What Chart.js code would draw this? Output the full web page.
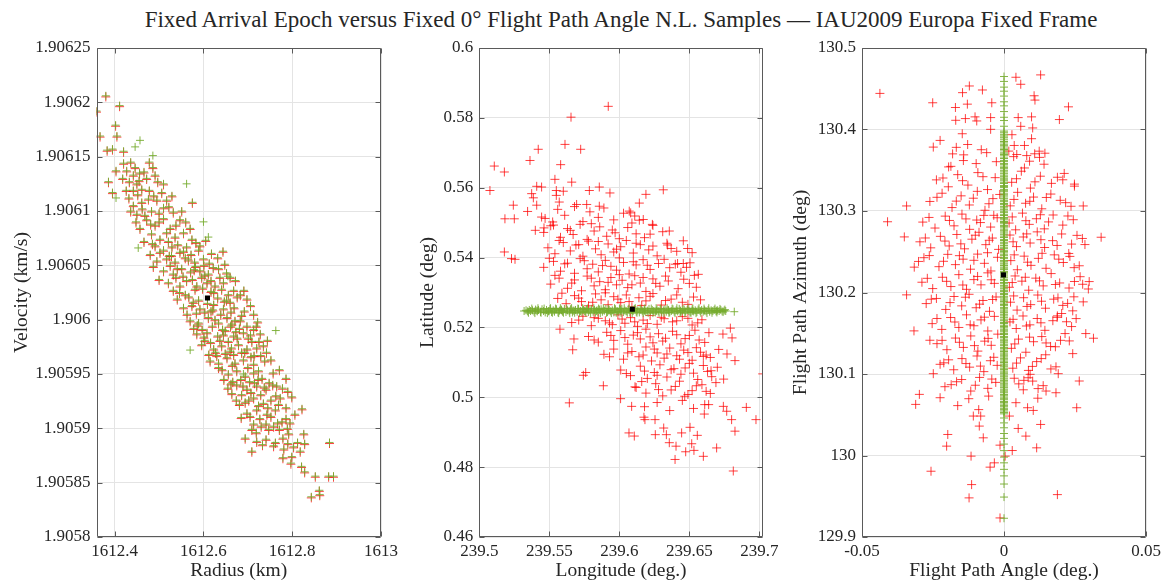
<!DOCTYPE html>
<html>
<head>
<meta charset="utf-8">
<script src="https://cdn.jsdelivr.net/npm/chart.js@4.4.1/dist/chart.umd.min.js"></script>
<style>
body { margin: 0; background: #fff; overflow: hidden; }
#wrap { position: relative; width: 1162px; height: 583px; }
#wrap canvas { position: absolute; left: 0; top: 0; }
#title { position: absolute; left: 621px; top: 6px; transform: translateX(-50%); white-space: nowrap;
  font: 23px "Liberation Serif"; line-height: 28px; color: #262626; }
</style>
</head>
<body>
<div id="wrap">
<div id="title">Fixed Arrival Epoch versus Fixed 0° Flight Path Angle N.L. Samples — IAU2009 Europa Fixed Frame</div>
<canvas id="c1" width="1162" height="583"></canvas>
<canvas id="c2" width="1162" height="583"></canvas>
<canvas id="c3" width="1162" height="583"></canvas>
</div>
<script>
// ---- panel 1 : radius / velocity ----
var radiusRange = [1612.359, 1613];
var radiusTicks = [1612.4, 1612.6, 1612.8, 1613];
var velocityRange = [1.9058, 1.90625];
var velocityTicks = [1.9058, 1.90585, 1.9059, 1.90595, 1.906, 1.90605, 1.9061, 1.90615, 1.9062, 1.90625];
var nomRV = [1612.609, 1.906020];
// [radius, velocity (fixed epoch), velocity (fixed 0 deg FPA)] - same radius draws
var rvSamples = [
  [1612.359,1.906191,1.906192],[1612.380,1.906205,1.906206],[1612.411,1.906196,1.906197],[1612.367,1.906168,1.906169],[1612.402,1.906178,1.906179],[1612.405,1.906168,1.906169],
  [1612.383,1.906155,1.906156],[1612.395,1.906156,1.906157],[1612.420,1.906154,1.906155],[1612.386,1.906126,1.906127],[1612.395,1.906116,1.906117],[1612.403,1.906136,1.906137],[1612.575,1.906107,1.906108],
  [1612.420,1.906143,1.906144],[1612.436,1.906144,1.906145],[1612.446,1.906139,1.906140],[1612.427,1.906136,1.906137],[1612.442,1.906132,1.906133],[1612.456,1.906134,1.906135],[1612.478,1.906144,1.906145],
  [1612.486,1.906139,1.906140],[1612.466,1.906135,1.906136],[1612.433,1.906126,1.906127],[1612.450,1.906124,1.906125],[1612.472,1.906129,1.906130],[1612.491,1.906132,1.906133],[1612.426,1.906118,1.906119],
  [1612.442,1.906118,1.906119],[1612.461,1.906119,1.906120],[1612.478,1.906118,1.906119],[1612.510,1.906124,1.906125],[1612.506,1.906116,1.906117],[1612.529,1.906113,1.906114],[1612.442,1.906104,1.906105],
  [1612.461,1.906107,1.906108],[1612.476,1.906110,1.906111],[1612.495,1.906109,1.906110],[1612.450,1.906096,1.906097],[1612.468,1.906095,1.906096],[1612.483,1.906099,1.906100],[1612.510,1.906102,1.906103],
  [1612.532,1.906098,1.906099],[1612.551,1.906099,1.906100],[1612.457,1.906083,1.906084],[1612.472,1.906091,1.906092],[1612.491,1.906086,1.906087],[1612.510,1.906092,1.906093],[1612.525,1.906083,1.906084],
  [1612.547,1.906091,1.906092],[1612.483,1.906078,1.906079],[1612.502,1.906073,1.906074],[1612.517,1.906079,1.906080],[1612.536,1.906075,1.906076],[1612.555,1.906079,1.906080],[1612.570,1.906083,1.906084],
  [1612.574,1.906073,1.906074],[1612.491,1.906067,1.906068],[1612.510,1.906063,1.906064],[1612.529,1.906066,1.906067],[1612.547,1.906061,1.906062],[1612.562,1.906066,1.906067],[1612.592,1.906067,1.906068],
  [1612.495,1.906053,1.906054],[1612.517,1.906055,1.906056],[1612.536,1.906052,1.906053],[1612.559,1.906056,1.906057],[1612.580,1.906052,1.906053],[1612.600,1.906055,1.906056],[1612.632,1.906056,1.906057],
  [1612.644,1.906062,1.906063],[1612.510,1.906044,1.906045],[1612.532,1.906041,1.906042],[1612.551,1.906046,1.906047],[1612.571,1.906043,1.906044],[1612.592,1.906044,1.906045],[1612.611,1.906041,1.906042],
  [1612.634,1.906046,1.906047],[1612.660,1.906038,1.906039],[1612.521,1.906033,1.906034],[1612.547,1.906030,1.906031],[1612.562,1.906035,1.906036],[1612.585,1.906030,1.906031],[1612.608,1.906033,1.906034],
  [1612.626,1.906030,1.906031],[1612.645,1.906033,1.906034],
  [1612.532,1.906026,1.906027],[1612.559,1.906022,1.906023],[1612.581,1.906027,1.906028],[1612.623,1.906024,1.906025],[1612.641,1.906027,1.906028],[1612.668,1.906026,1.906027],[1612.683,1.906022,1.906023],
  [1612.555,1.906010,1.906011],[1612.577,1.906015,1.906016],[1612.592,1.906009,1.906010],[1612.623,1.906013,1.906014],[1612.645,1.906009,1.906010],[1612.660,1.906015,1.906016],[1612.698,1.906018,1.906019],
  [1612.713,1.906004,1.906005],[1612.570,1.905998,1.905999],[1612.589,1.905996,1.905997],[1612.611,1.906001,1.906002],[1612.634,1.905996,1.905997],[1612.653,1.906001,1.906002],[1612.671,1.905998,1.905999],
  [1612.698,1.905993,1.905994],[1612.585,1.905986,1.905987],[1612.608,1.905987,1.905988],[1612.632,1.905984,1.905985],[1612.649,1.905989,1.905990],[1612.668,1.905984,1.905985],[1612.690,1.905987,1.905988],
  [1612.713,1.905990,1.905991],[1612.728,1.905986,1.905987],[1612.596,1.905976,1.905977],[1612.623,1.905972,1.905973],[1612.641,1.905975,1.905976],[1612.660,1.905970,1.905971],[1612.679,1.905976,1.905977],
  [1612.698,1.905972,1.905973],[1612.720,1.905973,1.905974],[1612.615,1.905961,1.905962],[1612.634,1.905959,1.905960],[1612.653,1.905964,1.905965],[1612.671,1.905959,1.905960],[1612.690,1.905962,1.905963],
  [1612.713,1.905958,1.905959],[1612.738,1.905961,1.905962],[1612.634,1.905955,1.905956],[1612.656,1.905949,1.905950],[1612.675,1.905952,1.905953],[1612.694,1.905947,1.905948],[1612.713,1.905950,1.905951],
  [1612.732,1.905945,1.905946],[1612.771,1.905953,1.905954],[1612.655,1.905936,1.905937],[1612.675,1.905939,1.905940],[1612.698,1.905935,1.905936],[1612.720,1.905938,1.905939],[1612.741,1.905935,1.905936],
  [1612.756,1.905939,1.905940],[1612.786,1.905945,1.905946],[1612.674,1.905925,1.905926],[1612.694,1.905923,1.905924],[1612.713,1.905927,1.905928],[1612.735,1.905922,1.905923],[1612.752,1.905925,1.905926],
  [1612.773,1.905927,1.905928],[1612.799,1.905928,1.905929],[1612.822,1.905917,1.905918],[1612.698,1.905913,1.905914],[1612.720,1.905916,1.905917],[1612.743,1.905912,1.905913],[1612.762,1.905916,1.905917],
  [1612.786,1.905918,1.905919],[1612.713,1.905903,1.905904],[1612.741,1.905903,1.905904],[1612.758,1.905901,1.905902],[1612.777,1.905905,1.905906],[1612.795,1.905904,1.905905],[1612.694,1.905890,1.905891],
  [1612.719,1.905895,1.905896],[1612.747,1.905898,1.905899],[1612.771,1.905898,1.905899],[1612.789,1.905899,1.905900],[1612.826,1.905894,1.905895],[1612.709,1.905878,1.905879],[1612.720,1.905887,1.905888],
  [1612.779,1.905890,1.905891],[1612.803,1.905882,1.905883],[1612.828,1.905885,1.905886],[1612.818,1.905878,1.905879],[1612.779,1.905872,1.905873],[1612.799,1.905873,1.905874],[1612.797,1.905867,1.905868],
  [1612.821,1.905864,1.905865],[1612.828,1.905859,1.905860],[1612.852,1.905855,1.905856],[1612.884,1.905886,1.905887],[1612.882,1.905855,1.905856],[1612.893,1.905855,1.905856],[1612.843,1.905836,1.905837],
  [1612.861,1.905842,1.905843],[1612.862,1.905838,1.905839],
  [1612.418,1.906129,1.906130],[1612.455,1.906127,1.906128],[1612.497,1.906126,1.906127],
  [1612.432,1.906111,1.906112],[1612.452,1.906114,1.906115],[1612.488,1.906113,1.906114],[1612.517,1.906109,1.906110],
  [1612.436,1.906099,1.906100],[1612.462,1.906101,1.906102],[1612.500,1.906097,1.906098],[1612.522,1.906103,1.906104],
  [1612.448,1.906089,1.906090],[1612.481,1.906087,1.906088],[1612.500,1.906089,1.906090],[1612.538,1.906086,1.906087],[1612.560,1.906089,1.906090],
  [1612.466,1.906071,1.906072],[1612.485,1.906069,1.906070],[1612.521,1.906071,1.906072],[1612.542,1.906068,1.906069],[1612.583,1.906070,1.906071],[1612.605,1.906072,1.906073],
  [1612.480,1.906059,1.906060],[1612.502,1.906061,1.906062],[1612.523,1.906058,1.906059],[1612.555,1.906062,1.906063],[1612.572,1.906059,1.906060],[1612.618,1.906060,1.906061],
  [1612.487,1.906048,1.906049],[1612.525,1.906049,1.906050],[1612.541,1.906046,1.906047],[1612.582,1.906048,1.906049],[1612.601,1.906049,1.906050],[1612.622,1.906047,1.906048],[1612.648,1.906050,1.906051],
  [1612.500,1.906036,1.906037],[1612.538,1.906038,1.906039],[1612.575,1.906036,1.906037],[1612.596,1.906038,1.906039],[1612.617,1.906035,1.906036],[1612.637,1.906038,1.906039],[1612.672,1.906035,1.906036],
  [1612.541,1.906018,1.906019],[1612.567,1.906020,1.906021],[1612.589,1.906017,1.906018],[1612.609,1.906014,1.906015],[1612.632,1.906019,1.906020],[1612.652,1.906017,1.906018],[1612.676,1.906020,1.906021],[1612.706,1.906012,1.906013],
  [1612.563,1.906004,1.906005],[1612.584,1.906005,1.906006],[1612.603,1.906006,1.906007],[1612.617,1.906007,1.906008],[1612.639,1.906004,1.906005],[1612.662,1.906006,1.906007],[1612.686,1.906003,1.906004],[1612.722,1.905997,1.905998],
  [1612.578,1.905991,1.905992],[1612.597,1.905990,1.905991],[1612.620,1.905993,1.905994],[1612.643,1.905990,1.905991],[1612.661,1.905993,1.905994],[1612.681,1.905991,1.905992],[1612.706,1.905985,1.905986],[1612.744,1.905980,1.905981],
  [1612.603,1.905980,1.905981],[1612.616,1.905978,1.905979],[1612.637,1.905980,1.905981],[1612.656,1.905979,1.905980],[1612.676,1.905982,1.905983],[1612.709,1.905979,1.905980],[1612.735,1.905975,1.905976],
  [1612.612,1.905967,1.905968],[1612.630,1.905966,1.905967],[1612.649,1.905968,1.905969],[1612.668,1.905967,1.905968],[1612.686,1.905969,1.905970],[1612.707,1.905965,1.905966],[1612.729,1.905966,1.905967],[1612.752,1.905962,1.905963],
  [1612.646,1.905944,1.905945],[1612.666,1.905942,1.905943],[1612.684,1.905944,1.905945],[1612.704,1.905942,1.905943],[1612.723,1.905944,1.905945],[1612.748,1.905941,1.905942],[1612.765,1.905938,1.905939],
  [1612.664,1.905931,1.905932],[1612.686,1.905930,1.905931],[1612.707,1.905932,1.905933],[1612.729,1.905930,1.905931],[1612.763,1.905929,1.905930],[1612.790,1.905933,1.905934],
  [1612.685,1.905909,1.905910],[1612.705,1.905910,1.905911],[1612.727,1.905908,1.905909],[1612.752,1.905910,1.905911],[1612.786,1.905908,1.905909],[1612.806,1.905912,1.905913],
  [1612.733,1.905884,1.905885],[1612.758,1.905883,1.905884],[1612.790,1.905885,1.905886],[1612.812,1.905886,1.905887],
  [1612.528,1.906058,1.906059],[1612.566,1.906054,1.906055],[1612.613,1.906051,1.906052],[1612.589,1.906063,1.906064],
  [1612.554,1.906039,1.906040],[1612.603,1.906040,1.906041],[1612.652,1.906042,1.906043],[1612.579,1.906045,1.906046],
  [1612.546,1.906024,1.906025],[1612.598,1.906028,1.906029],[1612.617,1.906025,1.906026],[1612.656,1.906022,1.906023],[1612.691,1.906026,1.906027],
  [1612.574,1.906012,1.906013],[1612.621,1.906008,1.906009],[1612.647,1.906016,1.906017],[1612.669,1.906010,1.906011],[1612.692,1.906007,1.906008],
  [1612.586,1.905994,1.905995],[1612.626,1.905999,1.906000],[1612.664,1.905995,1.905996],[1612.683,1.905998,1.905999],[1612.719,1.905993,1.905994],
  [1612.601,1.905983,1.905984],[1612.645,1.905985,1.905986],[1612.673,1.905988,1.905989],[1612.701,1.905982,1.905983],[1612.725,1.905979,1.905980],
  [1612.627,1.905969,1.905970],[1612.663,1.905973,1.905974],[1612.693,1.905969,1.905970],[1612.714,1.905966,1.905967],[1612.742,1.905969,1.905970],
  [1612.642,1.905953,1.905954],[1612.665,1.905957,1.905958],[1612.700,1.905955,1.905956],[1612.724,1.905952,1.905953],[1612.757,1.905950,1.905951],
  [1612.662,1.905940,1.905941],[1612.689,1.905938,1.905939],[1612.715,1.905941,1.905942],[1612.737,1.905937,1.905938],[1612.778,1.905936,1.905937],
  [1612.681,1.905921,1.905922],[1612.702,1.905925,1.905926],[1612.724,1.905920,1.905921],[1612.745,1.905918,1.905919],[1612.769,1.905921,1.905922],
  [1612.709,1.905898,1.905899],[1612.730,1.905901,1.905902],[1612.767,1.905904,1.905905],[1612.792,1.905894,1.905895],
  [1612.741,1.905889,1.905890],[1612.762,1.905886,1.905887],[1612.781,1.905880,1.905881]
];
var rvFpaOnly = [
  [1612.446,1.906159],[1612.486,1.906151],[1612.403,1.906112],[1612.562,1.906125],[1612.457,1.906165],[1612.453,1.906066],
  [1612.611,1.906076],[1612.570,1.905972],[1612.763,1.905990],[1612.655,1.906040],[1612.600,1.906090],[1612.690,1.905950]
];

// ---- panel 2 : longitude / latitude ----
var lonRange = [239.5, 239.7024];
var lonTicks = [239.5, 239.55, 239.6, 239.65, 239.7];
var latRange = [0.46, 0.6];
var latTicks = [0.46, 0.48, 0.5, 0.52, 0.54, 0.56, 0.58, 0.6];
var nomLonLat = [239.6093, 0.5252];
var lonLatEpoch = [
  [239.5076,0.5592],[239.5107,0.5662],[239.5179,0.5645],[239.5243,0.5550],[239.5183,0.5511],[239.5250,0.5511],[239.5179,0.5416],[239.5230,0.5397],
  [239.5255,0.5395],[239.5362,0.5678],[239.5421,0.5710],[239.5345,0.5532],[239.5374,0.5583],[239.5386,0.5571],[239.5410,0.5604],[239.5612,0.5724],
  [239.5655,0.5802],[239.5921,0.5833],[239.5724,0.5710],[239.5581,0.5666],[239.5540,0.5624],[239.5600,0.5590],[239.5660,0.5616],[239.5786,0.5592],
  [239.5857,0.5602],[239.5933,0.5585],[239.6190,0.5581],[239.6314,0.5594],[239.6143,0.5556],[239.5857,0.5547],[239.6071,0.5533],[239.5767,0.5552],
  [239.5695,0.5552],[239.5445,0.5602],[239.5550,0.5592],[239.5571,0.5559],[239.5550,0.5578],[239.5410,0.5550],[239.5445,0.5516],[239.5462,0.5485],
  [239.5400,0.5478],[239.5524,0.5502],[239.6081,0.5528],[239.6143,0.5507],[239.6171,0.5509],[239.6236,0.5495],[239.6357,0.5476],[239.6457,0.5448],
  [239.6488,0.5426],[239.6345,0.5436],[239.6416,0.5383],[239.6457,0.5383],[239.6505,0.5385],[239.6536,0.5349],[239.6564,0.5352],
  [239.5643,0.4984],[239.5886,0.5033],[239.5743,0.5063],[239.5760,0.5071],[239.5667,0.5136],[239.5676,0.5167],[239.5576,0.5195],[239.6009,0.4996],
  [239.6069,0.4898],[239.6107,0.4889],[239.6088,0.4974],[239.6112,0.5030],[239.6176,0.4943],[239.6183,0.4936],[239.6255,0.4936],[239.6317,0.4912],
  [239.6336,0.4893],[239.6257,0.4893],[239.6357,0.4870],[239.6405,0.4860],[239.6398,0.4822],[239.6445,0.4898],[239.6474,0.4844],[239.6505,0.4914],
  [239.6517,0.4867],[239.6533,0.4848],[239.6557,0.4891],[239.6600,0.4831],[239.6607,0.4952],[239.6638,0.4979],[239.6695,0.4855],[239.6743,0.4974],
  [239.6767,0.4960],[239.6814,0.4789],[239.6826,0.4903],[239.6802,0.4936],[239.6907,0.4971],[239.6976,0.4936],[239.7024,0.5067],[239.6826,0.5105],
  [239.6769,0.5124],[239.6745,0.5052],[239.6655,0.5076],[239.6793,0.5198],[239.6805,0.5170],[239.6740,0.5181],[239.6600,0.5117],[239.6467,0.5003],
  [239.547,0.5512],[239.556,0.5538],[239.561,0.5521],[239.568,0.5546],[239.574,0.5503],[239.579,0.5531],[239.585,0.5515],[239.589,0.5542],
  [239.596,0.5508],[239.603,0.5527],[239.611,0.5519],
  [239.546,0.5472],[239.551,0.5491],[239.558,0.5458],[239.563,0.5483],[239.567,0.5466],[239.572,0.5495],[239.577,0.5452],[239.582,0.5476],
  [239.586,0.5488],[239.591,0.5461],[239.595,0.5479],[239.600,0.5454],[239.606,0.5486],[239.612,0.5468],[239.618,0.5457],[239.624,0.5492],[239.631,0.5474],
  [239.549,0.5428],[239.554,0.5411],[239.560,0.5443],[239.565,0.5419],[239.569,0.5436],[239.574,0.5404],[239.578,0.5447],[239.583,0.5425],
  [239.587,0.5408],[239.592,0.5439],[239.596,0.5416],[239.601,0.5431],[239.605,0.5449],[239.610,0.5413],[239.615,0.5437],[239.621,0.5422],
  [239.627,0.5405],[239.634,0.5441],[239.641,0.5418],
  [239.546,0.5372],[239.553,0.5389],[239.558,0.5361],[239.563,0.5384],[239.568,0.5355],[239.572,0.5397],[239.577,0.5368],[239.581,0.5381],
  [239.585,0.5359],[239.590,0.5392],[239.594,0.5375],[239.598,0.5364],[239.603,0.5386],[239.607,0.5353],[239.612,0.5379],[239.617,0.5394],
  [239.622,0.5366],[239.628,0.5383],[239.636,0.5371],[239.644,0.5358],
  [239.551,0.5324],[239.557,0.5341],[239.563,0.5312],[239.568,0.5336],[239.573,0.5305],[239.577,0.5347],[239.582,0.5319],[239.586,0.5331],
  [239.590,0.5308],[239.594,0.5343],[239.598,0.5322],[239.602,0.5335],[239.606,0.5314],[239.611,0.5348],[239.615,0.5327],[239.619,0.5303],
  [239.624,0.5339],[239.629,0.5318],[239.635,0.5333],[239.642,0.5311],[239.650,0.5326],
  [239.556,0.5283],[239.562,0.5268],[239.568,0.5291],[239.573,0.5274],[239.578,0.5262],[239.583,0.5296],[239.587,0.5279],[239.592,0.5265],
  [239.596,0.5288],[239.601,0.5271],[239.605,0.5293],[239.609,0.5259],[239.614,0.5285],[239.619,0.5276],[239.624,0.5297],[239.630,0.5264],
  [239.637,0.5281],[239.645,0.5272],[239.653,0.5287],
  [239.566,0.5214],[239.574,0.5232],[239.580,0.5205],[239.585,0.5226],[239.590,0.5219],[239.595,0.5208],[239.599,0.5236],[239.604,0.5212],
  [239.608,0.5228],[239.613,0.5203],[239.617,0.5221],[239.622,0.5234],[239.627,0.5209],[239.632,0.5225],[239.638,0.5216],[239.645,0.5231],
  [239.652,0.5207],[239.659,0.5222],
  [239.578,0.5174],[239.585,0.5158],[239.591,0.5186],[239.596,0.5163],[239.601,0.5191],[239.606,0.5152],[239.610,0.5178],[239.615,0.5167],
  [239.619,0.5195],[239.624,0.5156],[239.628,0.5182],[239.633,0.5169],[239.638,0.5189],[239.644,0.5153],[239.650,0.5177],[239.657,0.5164],[239.664,0.5185],
  [239.589,0.5123],[239.596,0.5138],[239.603,0.5109],[239.609,0.5131],[239.614,0.5116],[239.619,0.5144],[239.623,0.5104],[239.627,0.5127],
  [239.632,0.5112],[239.636,0.5141],[239.641,0.5119],[239.646,0.5135],[239.652,0.5106],[239.658,0.5129],[239.665,0.5114],[239.671,0.5137],
  [239.601,0.5078],[239.608,0.5062],[239.615,0.5089],[239.620,0.5054],[239.625,0.5071],[239.629,0.5093],[239.634,0.5058],[239.639,0.5082],
  [239.644,0.5066],[239.650,0.5097],[239.656,0.5051],[239.663,0.5074],[239.670,0.5086],
  [239.612,0.5028],[239.619,0.5012],[239.626,0.5039],[239.631,0.5004],[239.637,0.5021],[239.643,0.5046],[239.649,0.5008],[239.655,0.5033],
  [239.662,0.5017],[239.669,0.5042],
  [239.618,0.4973],[239.627,0.4985],[239.636,0.4962],[239.645,0.4991],[239.653,0.4968],[239.661,0.4979],
  [239.553,0.5493],[239.565,0.5478],[239.580,0.5497],[239.597,0.5471],[239.609,0.5499],[239.622,0.5467],
  [239.557,0.5449],[239.571,0.5437],[239.585,0.5446],[239.598,0.5424],[239.612,0.5441],[239.624,0.5433],[239.637,0.5426],[239.652,0.5414],
  [239.550,0.5398],[239.561,0.5382],[239.575,0.5391],[239.588,0.5377],[239.600,0.5399],[239.610,0.5388],[239.620,0.5378],[239.632,0.5395],[239.640,0.5381],[239.648,0.5372],
  [239.554,0.5349],[239.566,0.5327],[239.580,0.5341],[239.592,0.5329],[239.600,0.5351],[239.609,0.5322],[239.617,0.5343],[239.626,0.5326],[239.633,0.5347],[239.646,0.5338],[239.655,0.5315],
  [239.559,0.5298],[239.571,0.5284],[239.581,0.5272],[239.590,0.5299],[239.599,0.5281],[239.607,0.5274],[239.616,0.5263],[239.622,0.5289],[239.633,0.5277],[239.641,0.5293],[239.649,0.5266],[239.658,0.5279],
  [239.571,0.5221],[239.582,0.5228],[239.593,0.5213],[239.602,0.5224],[239.611,0.5216],[239.620,0.5211],[239.630,0.5229],[239.641,0.5219],[239.649,0.5226],[239.656,0.5213],
  [239.582,0.5164],[239.594,0.5177],[239.604,0.5171],[239.613,0.5185],[239.622,0.5173],[239.631,0.5161],[239.641,0.5179],[239.647,0.5168],[239.654,0.5192],[239.661,0.5157],
  [239.593,0.5116],[239.606,0.5127],[239.617,0.5121],[239.625,0.5138],[239.634,0.5124],[239.643,0.5109],[239.649,0.5128],[239.655,0.5142],[239.662,0.5121],
  [239.605,0.5068],[239.618,0.5075],[239.627,0.5063],[239.637,0.5079],[239.647,0.5084],[239.653,0.5069],[239.660,0.5091],[239.666,0.5059],
  [239.616,0.5045],[239.628,0.5022],[239.640,0.5031],[239.652,0.5019],[239.659,0.5036],[239.665,0.5011]
];
var lonLatFpa = [
  [239.5320,0.5247],[239.5334,0.5249],[239.5345,0.5246],[239.5357,0.5250],[239.5366,0.5247],[239.5380,0.5249],[239.5391,0.5245],[239.5402,0.5251],
  [239.5414,0.5246],[239.5423,0.5250],[239.5437,0.5244],[239.5448,0.5252],[239.5459,0.5247],[239.5471,0.5243],[239.5480,0.5250],[239.5494,0.5246],
  [239.5505,0.5253],[239.5516,0.5244],[239.5528,0.5249],[239.5537,0.5245],[239.5551,0.5252],[239.5562,0.5243],[239.5573,0.5248],[239.5585,0.5251],
  [239.5594,0.5245],[239.5608,0.5253],[239.5619,0.5244],[239.5630,0.5249],[239.5642,0.5246],[239.5651,0.5252],[239.5665,0.5243],[239.5676,0.5248],
  [239.5687,0.5250],[239.5699,0.5245],[239.5708,0.5253],[239.5722,0.5247],[239.5733,0.5243],[239.5744,0.5251],[239.5756,0.5246],[239.5765,0.5252],
  [239.5779,0.5244],[239.5790,0.5249],[239.5801,0.5253],[239.5813,0.5245],[239.5822,0.5250],[239.5836,0.5247],[239.5847,0.5243],[239.5858,0.5251],
  [239.5870,0.5252],[239.5879,0.5245],[239.5893,0.5248],[239.5904,0.5253],[239.5915,0.5244],[239.5927,0.5250],[239.5936,0.5246],[239.5950,0.5249],
  [239.5961,0.5243],[239.5972,0.5252],[239.5984,0.5247],[239.5993,0.5245],[239.6007,0.5251],[239.6018,0.5253],[239.6029,0.5244],[239.6041,0.5248],
  [239.6050,0.5246],[239.6064,0.5252],[239.6075,0.5243],[239.6086,0.5250],[239.6098,0.5247],[239.6107,0.5253],[239.6121,0.5245],[239.6132,0.5249],
  [239.6143,0.5243],[239.6155,0.5251],[239.6164,0.5246],[239.6178,0.5252],[239.6189,0.5244],[239.6200,0.5248],[239.6212,0.5253],[239.6221,0.5245],
  [239.6235,0.5250],[239.6246,0.5247],[239.6257,0.5243],[239.6269,0.5251],[239.6278,0.5246],[239.6292,0.5253],[239.6303,0.5244],[239.6314,0.5249],
  [239.6326,0.5252],[239.6335,0.5245],[239.6349,0.5250],[239.6360,0.5243],[239.6371,0.5247],[239.6383,0.5252],[239.6392,0.5245],[239.6406,0.5249],
  [239.6417,0.5246],[239.6428,0.5253],[239.6440,0.5244],[239.6449,0.5248],[239.6463,0.5251],[239.6474,0.5245],[239.6485,0.5250],[239.6497,0.5247],
  [239.6506,0.5243],[239.6520,0.5252],[239.6531,0.5246],[239.6542,0.5249],[239.6554,0.5244],[239.6563,0.5251],[239.6577,0.5247],[239.6588,0.5250],
  [239.6599,0.5245],[239.6611,0.5248],[239.6620,0.5246],[239.6634,0.5250],[239.6645,0.5245],[239.6656,0.5249],[239.6668,0.5247],[239.6677,0.5250],
  [239.6691,0.5246],[239.6702,0.5249],[239.6713,0.5247],[239.6725,0.5250],[239.6734,0.5246],[239.6748,0.5248],[239.6760,0.5247],[239.6821,0.5245],
  [239.5351,0.5242],[239.5375,0.5254],[239.5397,0.5241],[239.5419,0.5255],[239.5441,0.5242],[239.5463,0.5254],[239.5486,0.5241],[239.5509,0.5255],
  [239.5522,0.5242],[239.5545,0.5254],[239.5567,0.5241],[239.5579,0.5255],[239.5601,0.5242],[239.5624,0.5254],[239.5646,0.5241],[239.5659,0.5255],
  [239.5681,0.5242],[239.5704,0.5254],[239.5716,0.5241],[239.5738,0.5255],[239.5761,0.5242],[239.5773,0.5254],[239.5795,0.5241],[239.5818,0.5255],
  [239.5829,0.5242],[239.5852,0.5254],[239.5864,0.5241],[239.5886,0.5255],[239.5909,0.5242],[239.5921,0.5254],[239.5943,0.5241],[239.5966,0.5255],
  [239.5978,0.5242],[239.6001,0.5254],[239.6013,0.5241],[239.6035,0.5255],[239.6057,0.5242],[239.6069,0.5254],[239.6092,0.5241],[239.6114,0.5255],
  [239.6126,0.5242],[239.6149,0.5254],[239.6171,0.5241],[239.6183,0.5255],[239.6206,0.5242],[239.6228,0.5254],[239.6240,0.5241],[239.6263,0.5255],
  [239.6284,0.5242],[239.6297,0.5254],[239.6319,0.5241],[239.6341,0.5255],[239.6354,0.5242],[239.6377,0.5254],[239.6398,0.5241],[239.6411,0.5255],
  [239.6434,0.5242],[239.6455,0.5254],[239.6468,0.5241],[239.6491,0.5255],[239.6512,0.5242],[239.6525,0.5254],[239.6548,0.5241],[239.6569,0.5255],
  [239.6582,0.5242],[239.6605,0.5254],[239.6626,0.5241],[239.6639,0.5255],[239.6662,0.5242],[239.6683,0.5254],[239.6697,0.5243],[239.6719,0.5253],
  [239.6741,0.5244],[239.6754,0.5251],
  [239.5412,0.5248],[239.5498,0.5247],[239.5587,0.5249],[239.5669,0.5248],[239.5753,0.5247],[239.5841,0.5249],[239.5925,0.5248],[239.6011,0.5247],
  [239.6095,0.5249],[239.6180,0.5248],[239.6264,0.5247],[239.6352,0.5249],[239.6437,0.5248],[239.6521,0.5247],[239.6607,0.5249],[239.6693,0.5248]
];

// ---- panel 3 : flight path angle / azimuth ----
var fpaRange = [-0.05, 0.05];
var fpaTicks = [-0.05, 0, 0.05];
var aziRange = [129.9, 130.5];
var aziTicks = [129.9, 130, 130.1, 130.2, 130.3, 130.4, 130.5];
var nomFpaAzi = [-0.0002, 130.2216];
var fpaAziEpoch = [
  [-0.0437,130.4443],[-0.0251,130.4328],[-0.0225,130.3866],[-0.0249,130.3784],[-0.0122,130.4534],[-0.0146,130.4452],[-0.0076,130.4485],
  [-0.0171,130.4270],[-0.0129,130.4311],[-0.0170,130.4113],[-0.0136,130.4134],[-0.0102,130.4155],[-0.0096,130.4105],[-0.0043,130.4328],
  [-0.0047,130.4146],[-0.0047,130.4002],[-0.0147,130.3948],[-0.0128,130.3816],[-0.0181,130.3701],[-0.0187,130.3548],[-0.0143,130.3619],
  [-0.0343,130.3062],[-0.0410,130.2868],[-0.0351,130.2682],[-0.0316,130.2311],[0.0042,130.4641],[0.0059,130.4555],[0.0129,130.4670],
  [0.0106,130.4414],[0.0109,130.4361],[0.0227,130.4278],[0.0195,130.4122],[0.0050,130.4146],[0.0097,130.4155],[0.0059,130.4039],
  [0.0101,130.4019],[0.0097,130.3887],[0.0028,130.3936],[0.0036,130.3804],[0.0072,130.3804],[0.0045,130.3693],[0.0080,130.3680],
  [0.0124,130.3734],[0.0144,130.3709],[0.0207,130.3383],[0.0248,130.3330],[0.0279,130.3062],[0.0342,130.2678],[0.0285,130.2588],
  [0.0232,130.2443],[0.0265,130.2328],[0.0300,130.2134],[0.0297,130.2043],[0.0277,130.2101],
  [-0.0343,130.1971],[-0.0317,130.1529],[-0.0261,130.1414],[-0.0225,130.1119],[-0.0249,130.1004],[-0.0298,130.0750],[-0.0311,130.0627],
  [-0.0225,130.0709],[-0.0208,130.0844],[-0.0198,130.0258],[-0.0202,130.0115],[-0.0257,129.9807],[-0.0116,129.9992],[-0.0114,129.9643],
  [-0.0123,129.9480],[-0.0073,130.0217],[-0.0087,130.0361],[-0.0108,130.0484],[-0.0082,130.0484],[-0.0049,129.9857],[-0.0034,129.9910],
  [-0.0014,130.0127],[-0.0014,129.9234],[0.0029,130.0061],[0.0004,129.9992],[0.0050,130.0332],[0.0077,130.0238],[0.0019,130.0484],
  [0.0115,130.0094],[0.0129,130.0381],[0.0148,130.0791],[0.0183,130.0770],[0.0188,129.9520],[0.0256,130.0586],[0.0265,130.0914],
  [0.0191,130.1004],[0.0242,130.1250],[0.0315,130.1439],[0.0288,130.1496],[0.0230,130.1406],[0.0215,130.1496],[0.0254,130.1680],
  [0.0188,130.1713],[0.0279,130.1885],[0.0246,130.1947],[0.0103,130.0553],[0.0092,130.0996],[0.0070,130.0922],
  [-0.0195,130.3541],[-0.0142,130.3689],[-0.0098,130.3582],[-0.0061,130.3716],[-0.0027,130.3605],[0.0034,130.3667],[0.0072,130.3528],
  [0.0108,130.3702],[0.0141,130.3574],
  [-0.0238,130.3382],[-0.0196,130.3297],[-0.0163,130.3446],[-0.0127,130.3318],[-0.0092,130.3471],[-0.0058,130.3263],[-0.0031,130.3409],
  [0.0027,130.3352],[0.0061,130.3488],[0.0093,130.3281],[0.0128,130.3427],[0.0167,130.3339],[0.0212,130.3461],[0.0248,130.3305],
  [-0.0261,130.3117],[-0.0218,130.3218],[-0.0183,130.3042],[-0.0151,130.3186],[-0.0122,130.3074],[-0.0094,130.3241],[-0.0067,130.3009],
  [-0.0039,130.3152],[-0.0015,130.3203],[0.0022,130.3063],[0.0048,130.3229],[0.0076,130.3095],[0.0104,130.3171],[0.0133,130.3027],
  [0.0165,130.3208],[0.0198,130.3131],[0.0236,130.3058],
  [-0.0286,130.2864],[-0.0243,130.2791],[-0.0207,130.2937],[-0.0176,130.2818],[-0.0148,130.2962],[-0.0121,130.2775],[-0.0096,130.2889],
  [-0.0071,130.2946],[-0.0047,130.2803],[-0.0024,130.2917],[0.0018,130.2852],[0.0041,130.2769],[0.0065,130.2974],[0.0089,130.2836],
  [0.0114,130.2905],[0.0142,130.2781],[0.0173,130.2951],[0.0207,130.2827],[0.0244,130.2893],
  [-0.0296,130.2622],[-0.0258,130.2548],[-0.0224,130.2689],[-0.0193,130.2571],[-0.0166,130.2712],[-0.0139,130.2536],[-0.0113,130.2654],
  [-0.0088,130.2739],[-0.0064,130.2587],[-0.0041,130.2668],[-0.0019,130.2529],[0.0021,130.2705],[0.0044,130.2563],[0.0068,130.2681],
  [0.0092,130.2607],[0.0117,130.2744],[0.0143,130.2552],[0.0171,130.2636],[0.0203,130.2718],[0.0238,130.2594],[0.0276,130.2663],
  [-0.0301,130.2381],[-0.0263,130.2453],[-0.0229,130.2317],[-0.0198,130.2468],[-0.0171,130.2342],[-0.0144,130.2409],[-0.0118,130.2286],
  [-0.0093,130.2471],[-0.0069,130.2358],[-0.0046,130.2264],[-0.0023,130.2432],[0.0024,130.2391],[0.0047,130.2279],[0.0071,130.2446],
  [0.0095,130.2333],[0.0121,130.2419],[0.0148,130.2297],[0.0177,130.2462],[0.0209,130.2368],[0.0247,130.2305],
  [-0.0289,130.2126],[-0.0251,130.2048],[-0.0217,130.2187],[-0.0187,130.2073],[-0.0159,130.2219],[-0.0132,130.2039],[-0.0106,130.2158],
  [-0.0081,130.2094],[-0.0057,130.2241],[-0.0034,130.2112],[0.0019,130.2064],[0.0039,130.2203],[0.0063,130.2139],[0.0087,130.2028],
  [0.0112,130.2176],[0.0138,130.2081],[0.0166,130.2232],[0.0196,130.2117],[0.0229,130.2055],[0.0268,130.2194],
  [-0.0274,130.1864],[-0.0238,130.1927],[-0.0205,130.1792],[-0.0176,130.1951],[-0.0149,130.1836],[-0.0123,130.1978],[-0.0098,130.1813],
  [-0.0074,130.1902],[-0.0051,130.1769],[-0.0028,130.1945],[0.0023,130.1881],[0.0046,130.1784],[0.0069,130.1936],[0.0094,130.1851],
  [0.0119,130.1969],[0.0146,130.1807],[0.0175,130.1918],[0.0207,130.1842],[0.0242,130.1775],
  [-0.0253,130.1618],[-0.0219,130.1547],[-0.0188,130.1693],[-0.0159,130.1571],[-0.0132,130.1726],[-0.0106,130.1592],[-0.0081,130.1664],
  [-0.0057,130.1528],[-0.0034,130.1707],[0.0021,130.1639],[0.0043,130.1558],[0.0067,130.1712],[0.0091,130.1603],[0.0117,130.1681],
  [0.0144,130.1536],[0.0172,130.1654],[0.0203,130.1742],[0.0238,130.1582],
  [-0.0236,130.1372],[-0.0201,130.1298],[-0.0171,130.1441],[-0.0143,130.1326],[-0.0117,130.1467],[-0.0092,130.1281],[-0.0068,130.1403],
  [-0.0045,130.1352],[-0.0022,130.1489],[0.0026,130.1315],[0.0051,130.1428],[0.0077,130.1267],[0.0104,130.1396],[0.0133,130.1459],
  [0.0164,130.1338],[0.0199,130.1413],
  [-0.0212,130.1137],[-0.0177,130.1052],[-0.0148,130.1189],[-0.0121,130.1084],[-0.0095,130.1221],[-0.0071,130.1029],[-0.0048,130.1163],
  [-0.0024,130.1106],[0.0031,130.1071],[0.0058,130.1198],[0.0086,130.1044],[0.0115,130.1152],[0.0147,130.1236],[0.0183,130.1088],
  [-0.0186,130.0869],[-0.0149,130.0932],[-0.0117,130.0791],[-0.0086,130.0958],[-0.0057,130.0824],[-0.0029,130.0897],[0.0036,130.0948],
  [0.0068,130.0806],[0.0101,130.0913],[0.0138,130.0857],
  [-0.0163,130.0612],[-0.0124,130.0697],[-0.0089,130.0563],[-0.0054,130.0729],[0.0042,130.0648],[0.0083,130.0586],[0.0119,130.0703],
  [-0.0215,130.3405],[-0.0146,130.3372],[-0.0074,130.3421],[0.0044,130.3396],[0.0109,130.3358],[0.0188,130.3414],
  [-0.0236,130.3168],[-0.0168,130.3121],[-0.0108,130.3157],[-0.0053,130.3089],[0.0035,130.3142],[0.0091,130.3119],[0.0149,130.3166],[0.0217,130.3102],
  [-0.0264,130.2921],[-0.0192,130.2884],[-0.0134,130.2903],[-0.0083,130.2858],[-0.0036,130.2947],[0.0029,130.2927],[0.0077,130.2881],[0.0128,130.2954],[0.0157,130.2866],[0.0225,130.2939],
  [-0.0277,130.2669],[-0.0208,130.2631],[-0.0152,130.2597],[-0.0101,130.2703],[-0.0052,130.2641],[0.0032,130.2622],[0.0080,130.2719],[0.0130,130.2648],[0.0187,130.2577],[0.0257,130.2701],
  [-0.0282,130.2427],[-0.0213,130.2383],[-0.0157,130.2452],[-0.0106,130.2395],[-0.0058,130.2488],[0.0036,130.2462],[0.0083,130.2372],[0.0134,130.2481],[0.0193,130.2409],[0.0228,130.2479],
  [-0.0270,130.2174],[-0.0202,130.2137],[-0.0145,130.2092],[-0.0093,130.2197],[-0.0045,130.2156],[0.0029,130.2122],[0.0075,130.2187],[0.0125,130.2143],[0.0181,130.2098],[0.0248,130.2135],
  [-0.0256,130.1918],[-0.0190,130.1876],[-0.0136,130.1942],[-0.0086,130.1857],[-0.0040,130.1914],[0.0034,130.1958],[0.0081,130.1829],[0.0132,130.1893],[0.0190,130.1934],[0.0224,130.1866],
  [-0.0236,130.1681],[-0.0173,130.1638],[-0.0119,130.1604],[-0.0069,130.1697],[0.0032,130.1671],[0.0079,130.1589],[0.0130,130.1628],[0.0187,130.1695],[0.0220,130.1641],
  [-0.0218,130.1413],[-0.0157,130.1389],[-0.0104,130.1348],[-0.0056,130.1437],[0.0038,130.1369],[0.0090,130.1452],[0.0148,130.1381],[0.0181,130.1334],
  [-0.0195,130.1174],[-0.0134,130.1128],[-0.0083,130.1097],[-0.0036,130.1205],[0.0044,130.1134],[0.0100,130.1093],[0.0131,130.1189],[0.0165,130.1062],
  [-0.0167,130.0905],[-0.0101,130.0862],[-0.0043,130.0938],[0.0052,130.0879],[0.0085,130.0954],[0.0120,130.0821],
  [-0.0168,130.3781],[-0.0080,130.3752],[0.0017,130.3735],[0.0090,130.3611],[0.0125,130.3658]
];
// fixed 0 deg flight path angle set: every sample sits at FPA = 0, only the azimuth varies
var aziFpa = [
  130.465, 130.459, 130.452, 130.447, 130.441, 130.434, 130.429, 130.422, 130.415, 130.411, 130.404,
  130.3981, 130.3966, 130.3943, 130.3931, 130.3909, 130.3897, 130.3874, 130.3852, 130.3846, 130.3821,
  130.3808, 130.3797, 130.3772, 130.3755, 130.3748, 130.3722, 130.3701, 130.3694, 130.3677, 130.3651,
  130.3643, 130.3618, 130.3609, 130.3584, 130.3573, 130.3551, 130.3532, 130.3524, 130.3501, 130.3489,
  130.3466, 130.3455, 130.3431, 130.3419, 130.3402, 130.3383, 130.3369, 130.3347, 130.3338, 130.3312,
  130.3301, 130.3287, 130.3262, 130.3249, 130.3236, 130.3211, 130.3198, 130.3183, 130.3159, 130.3148,
  130.3127, 130.3114, 130.3092, 130.3081, 130.3058, 130.3047, 130.3024, 130.3013, 130.2991, 130.2979,
  130.2954, 130.2945, 130.2921, 130.2910, 130.2892, 130.2871, 130.2859, 130.2843, 130.2821, 130.2808,
  130.2792, 130.2769, 130.2757, 130.2741, 130.2718, 130.2706, 130.2683, 130.2674, 130.2649, 130.2638,
  130.2617, 130.2604, 130.2581, 130.2572, 130.2549, 130.2537, 130.2513, 130.2502, 130.2486, 130.2463,
  130.2451, 130.2428, 130.2419, 130.2394, 130.2383, 130.2362, 130.2349, 130.2331, 130.2312, 130.2298,
  130.2281, 130.2259, 130.2247, 130.2229, 130.2213, 130.2191, 130.2179, 130.2158, 130.2146, 130.2122,
  130.2113, 130.2089, 130.2078, 130.2056, 130.2044, 130.2023, 130.2011, 130.1987, 130.1976, 130.1954,
  130.1942, 130.1921, 130.1906, 130.1889, 130.1871, 130.1853, 130.1842, 130.1818, 130.1806, 130.1786,
  130.1771, 130.1753, 130.1734, 130.1722, 130.1699, 130.1688, 130.1665, 130.1653, 130.1632, 130.1619,
  130.1598, 130.1583, 130.1567, 130.1549, 130.1531, 130.1517, 130.1496, 130.1484, 130.1461, 130.1449,
  130.1428, 130.1413, 130.1394, 130.1381, 130.1359, 130.1347, 130.1326, 130.1311, 130.1293, 130.1276,
  130.1258, 130.1243, 130.1224, 130.1209, 130.1192, 130.1174, 130.1157, 130.1141, 130.1122, 130.1108,
  130.1089, 130.1071, 130.1056, 130.1037, 130.1022, 130.1004, 130.0987, 130.0972, 130.0951, 130.0938,
  130.0919, 130.0903, 130.0886, 130.0867, 130.0852, 130.0836, 130.0815, 130.0801, 130.0782, 130.0769,
  130.0748, 130.0733, 130.0716, 130.0697, 130.0684, 130.0662, 130.0649, 130.0631, 130.0612, 130.0598,
  130.0579, 130.0563, 130.0546, 130.0528, 130.0511,
  130.046, 130.040, 130.034, 130.027, 130.021, 130.014, 130.006, 129.998, 129.991, 129.983, 129.975, 129.965, 129.949, 129.923
];

var FONT = 'Liberation Serif',
	INK = '#262626',
	RED = 'rgba(255,0,0,0.75)',
	GREEN = 'rgba(119,172,48,0.9)';

function pts(list, yIdx) {
	return list.map(function (p) { return {x: p[0], y: p[yIdx || 1]}; });
}

function fmt(v) {
	return String(+v.toFixed(6));
}

// closed box with short inward tick marks, like the original axes
var boxTicks = {
	id: 'boxTicks',
	afterDatasetsDraw: function (chart) {
		var ctx = chart.ctx, a = chart.chartArea,
			x = chart.scales.x, y = chart.scales.y;
		var L = Math.round(a.left) + 0.5, R = Math.round(a.right) - 0.5,
			T = Math.round(a.top) + 0.5, B = Math.round(a.bottom) - 0.5;
		ctx.save();
		ctx.strokeStyle = '#5a5a5a';
		ctx.lineWidth = 1;
		ctx.beginPath();
		x.ticks.forEach(function (t) {
			var p = Math.round(x.getPixelForValue(t.value)) + 0.5;
			ctx.moveTo(p, T); ctx.lineTo(p, T + 5);
			ctx.moveTo(p, B); ctx.lineTo(p, B - 5);
		});
		y.ticks.forEach(function (t) {
			var p = Math.round(y.getPixelForValue(t.value)) + 0.5;
			ctx.moveTo(L, p); ctx.lineTo(L + 5, p);
			ctx.moveTo(R, p); ctx.lineTo(R - 5, p);
		});
		ctx.rect(L, T, R - L, B - T);
		ctx.stroke();
		ctx.restore();
	}
};

function axis(range, ticks, title, horiz, size) {
	return {
		type: 'linear',
		bounds: 'data',
		min: range[0],
		max: range[1],
		afterBuildTicks: function (s) {
			s.ticks = ticks.map(function (v) { return {value: v}; });
		},
		afterFit: function (s) {
			if (horiz) s.height = size; else s.width = size;
			s.paddingLeft = s.paddingRight = s.paddingTop = s.paddingBottom = 0;
		},
		grid: {color: '#e4e4e4', drawTicks: false},
		border: {display: false},
		ticks: {
			color: INK, font: {family: FONT, size: 17},
			padding: horiz ? 4 : 6, callback: fmt,
			maxRotation: 0, autoSkip: false
		},
		title: {
			display: true, text: title, color: INK,
			font: {family: FONT, size: 19.5},
			padding: horiz ? {top: 0, bottom: 0} : {top: 10, bottom: 0}
		}
	};
}

function makePanel(id, p) {
	var ctx = document.getElementById(id).getContext('2d');
	return new Chart(ctx, {
		type: 'scatter',
		data: {
			datasets: [
				{data: p.nominal, pointStyle: 'rect', pointRadius: 3.6, backgroundColor: '#000', borderColor: '#000', borderWidth: 0, order: 0},
				{data: p.green, pointStyle: 'cross', pointRadius: 4, borderColor: GREEN, borderWidth: 1, order: 1},
				{data: p.red, pointStyle: 'cross', pointRadius: 4.5, borderColor: RED, borderWidth: 1, order: 2}
			]
		},
		options: {
			responsive: false,
			animation: false,
			events: [],
			layout: {padding: p.pad},
			plugins: {legend: {display: false}, tooltip: {enabled: false}},
			scales: {
				x: axis(p.xr, p.xt, p.xl, true, 46),
				y: axis(p.yr, p.yt, p.yl, false, p.yw)
			}
		},
		plugins: [boxTicks]
	});
}

makePanel('c1', {
	red: pts(rvSamples, 1), green: pts(rvSamples, 2).concat(pts(rvFpaOnly)), nominal: pts([nomRV]),
	xr: radiusRange, xt: radiusTicks, xl: 'Radius (km)',
	yr: velocityRange, yt: velocityTicks, yl: 'Velocity (km/s)',
	pad: {left: 0, top: 48, right: 1162 - 381, bottom: 0}, yw: 96.5
});

makePanel('c2', {
	red: pts(lonLatEpoch), green: pts(lonLatFpa), nominal: pts([nomLonLat]),
	xr: lonRange, xt: lonTicks, xl: 'Longitude (deg.)',
	yr: latRange, yt: latTicks, yl: 'Latitude (deg)',
	pad: {left: 406, top: 48, right: 1162 - 762.7, bottom: 0}, yw: 73.3
});

makePanel('c3', {
	red: pts(fpaAziEpoch),
	green: aziFpa.map(function (a) { return {x: 0, y: a}; }),
	nominal: pts([nomFpaAzi]),
	xr: fpaRange, xt: fpaTicks, xl: 'Flight Path Angle (deg.)',
	yr: aziRange, yt: aziTicks, yl: 'Flight Path Azimuth (deg)',
	pad: {left: 779, top: 48, right: 1162 - 1146, bottom: 0}, yw: 83
});
</script>
</body>
</html>
